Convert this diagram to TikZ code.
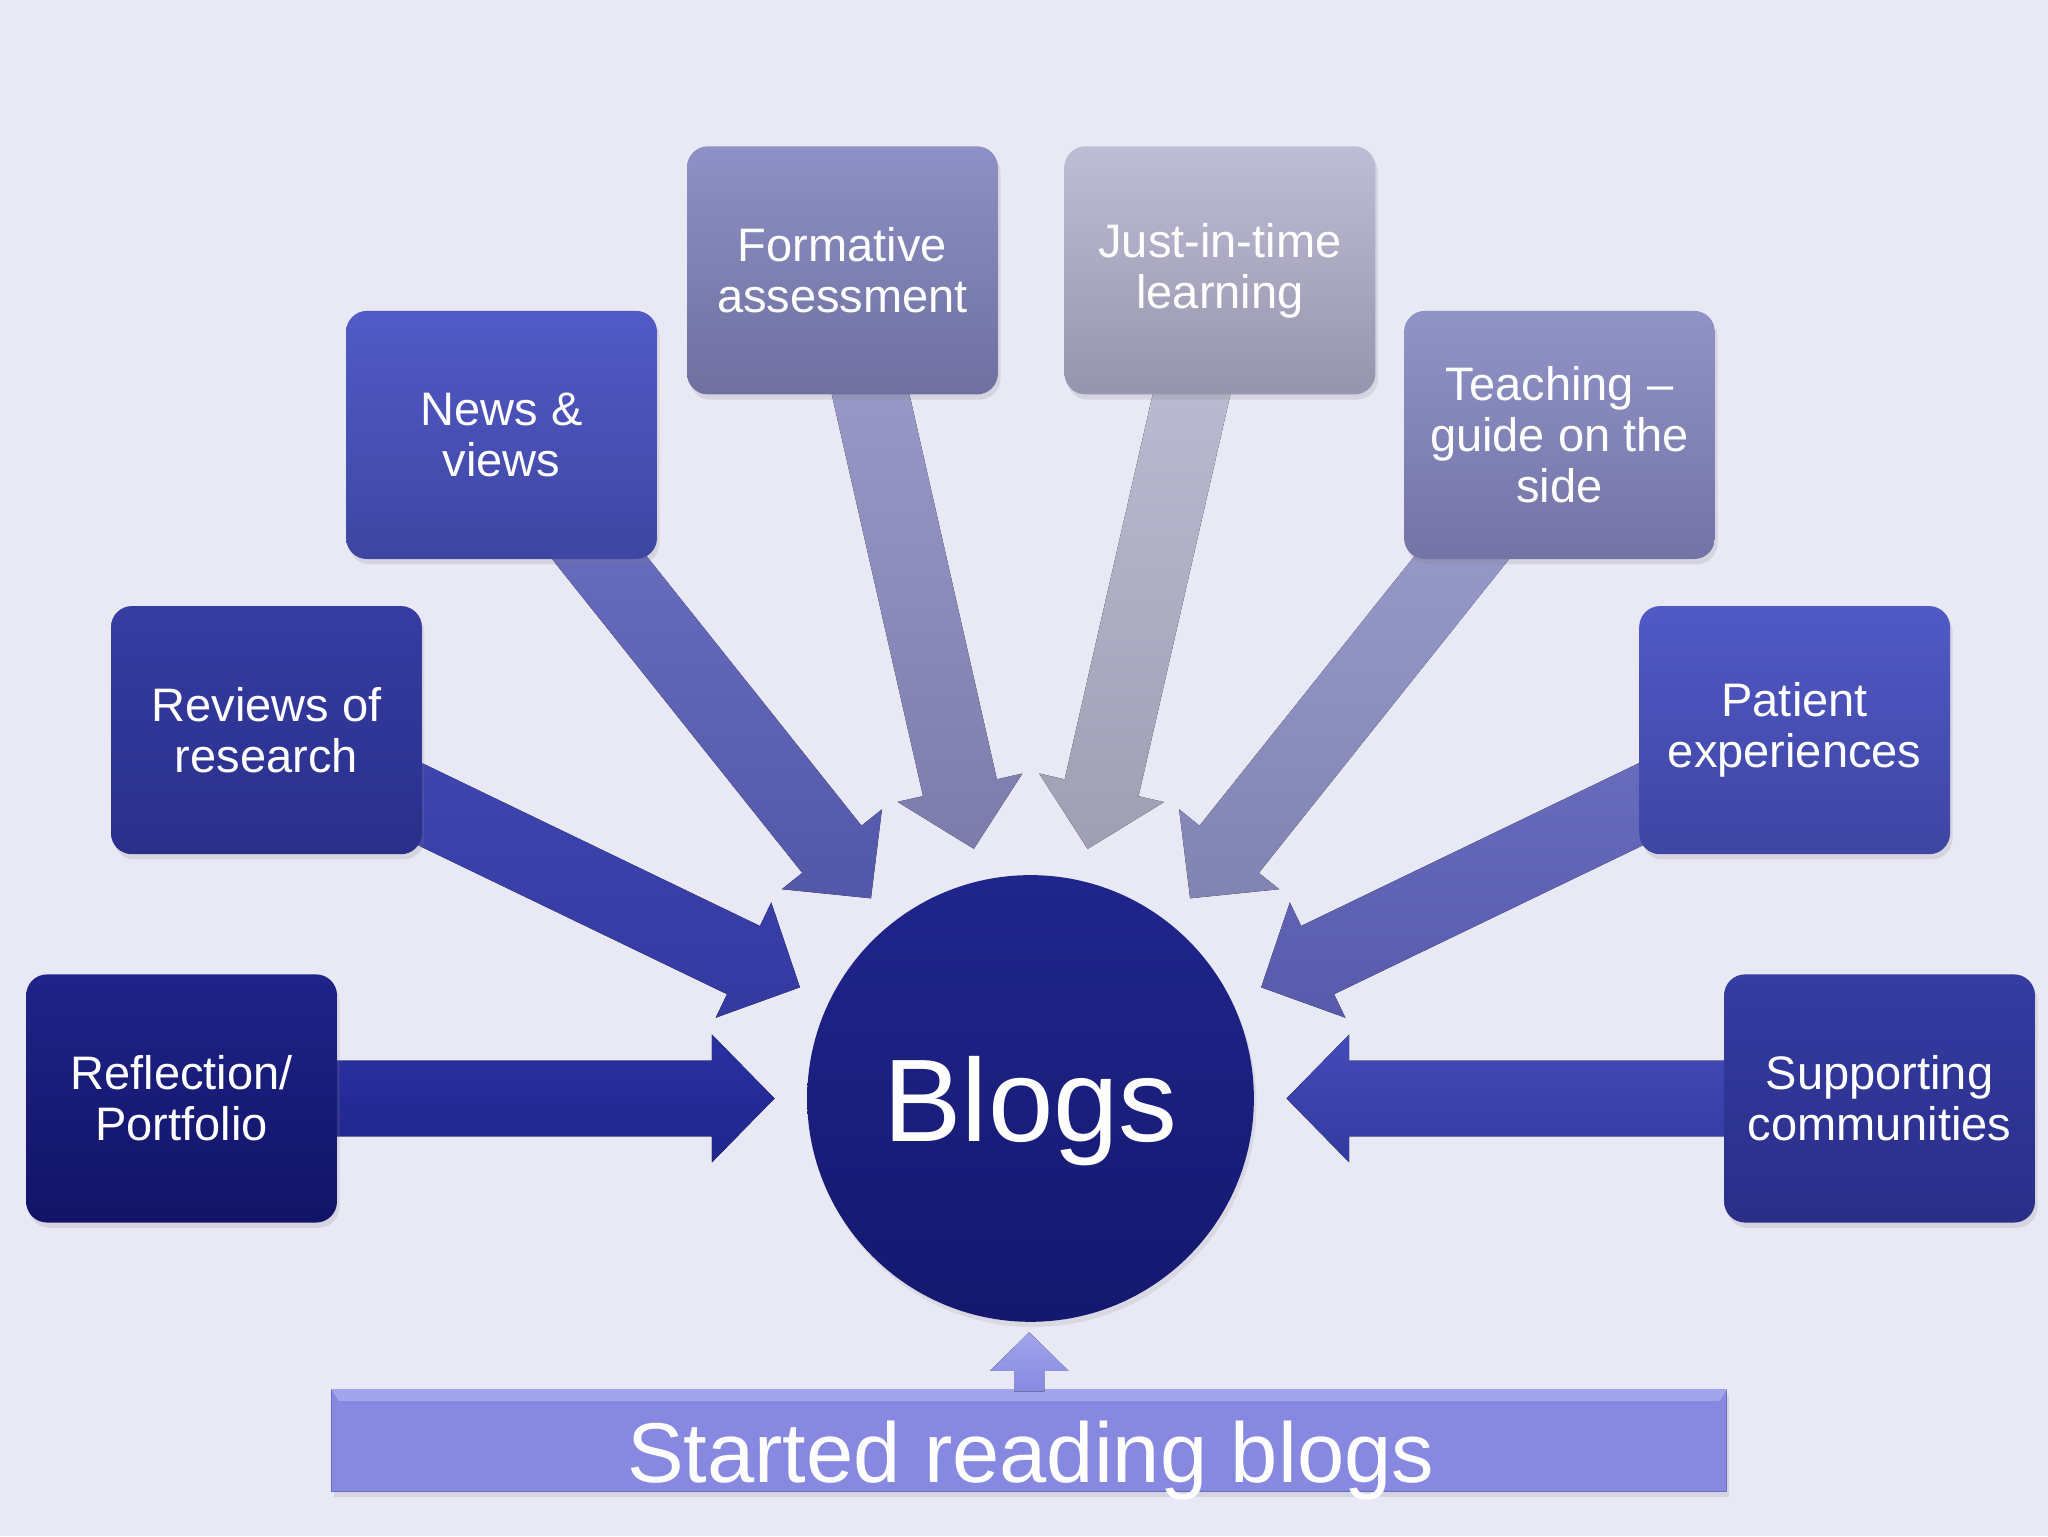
\documentclass[tikz,border=0pt]{standalone}
\usepackage{fontspec}
\setmainfont{Liberation Sans}
\usetikzlibrary{calc,shadows}
\pgfdeclarelayer{back}
\pgfdeclarelayer{arr}
\pgfsetlayers{back,arr,main}
\definecolor{bgc}{HTML}{E9E8F5}
\definecolor{rfT}{HTML}{1F2388}\definecolor{rfB}{HTML}{111466}
\definecolor{rvT}{HTML}{363DA2}\definecolor{rvB}{HTML}{2A2F8A}
\definecolor{nwT}{HTML}{525AC6}\definecolor{nwB}{HTML}{3E46A2}
\definecolor{fmT}{HTML}{8E91C5}\definecolor{fmB}{HTML}{6F6FA0}
\definecolor{jtT}{HTML}{BEBDD5}\definecolor{jtB}{HTML}{9795AD}
\definecolor{tcT}{HTML}{9193C7}\definecolor{tcB}{HTML}{7373A5}
\definecolor{ptT}{HTML}{5159C6}\definecolor{ptB}{HTML}{3E45A2}
\definecolor{spT}{HTML}{353CA2}\definecolor{spB}{HTML}{2A2E88}
\definecolor{arfT}{HTML}{2A30A0}\definecolor{arfB}{HTML}{20268C}
\definecolor{arvT}{HTML}{4048B2}\definecolor{arvB}{HTML}{3439A0}
\definecolor{anwT}{HTML}{6F73C3}\definecolor{anwB}{HTML}{5357A8}
\definecolor{afmT}{HTML}{9FA0CE}\definecolor{afmB}{HTML}{7C7CAC}
\definecolor{ajtT}{HTML}{C2C1D7}\definecolor{ajtB}{HTML}{A09EB3}
\definecolor{atcT}{HTML}{9EA0CF}\definecolor{atcB}{HTML}{8183B2}
\definecolor{aptT}{HTML}{6C70C1}\definecolor{aptB}{HTML}{585BAB}
\definecolor{aspT}{HTML}{434BB8}\definecolor{aspB}{HTML}{333A9E}
\definecolor{barc}{HTML}{8789E0}
\definecolor{barL}{HTML}{A2A4EC}
\definecolor{barD}{HTML}{6A6CC0}
\definecolor{circT}{HTML}{20258C}\definecolor{circB}{HTML}{14186E}
\tikzset{
  topic/.style={rounded corners=16pt, minimum width=238pt, minimum height=190pt,
    inner sep=0pt, align=center, text=white,
    font=\fontsize{36}{39}\selectfont,
    drop shadow={opacity=0.18, shadow xshift=2pt, shadow yshift=-4pt}},
  fat/.style={draw=none},
}
\newcommand\fatarrow[4]{%
  \coordinate (T#1) at ($(#2.center)!196pt!(#1.center)$);
  \coordinate (H#1) at ($(T#1)!48pt!(#1.center)$);
  \fill[fat, top color=#3, bottom color=#4]
    ($(#1.center)!29pt!90:(T#1)$) -- ($(H#1)!29pt!90:(T#1)$) --
    ($(H#1)!49pt!90:(T#1)$) -- (T#1) -- ($(H#1)!49pt!-90:(T#1)$) --
    ($(H#1)!29pt!-90:(T#1)$) -- ($(#1.center)!29pt!-90:(T#1)$) -- cycle;
}
\begin{document}
\begin{tikzpicture}[x=1pt,y=-1pt]
\begin{pgfonlayer}{back}
\fill[bgc] (0,0) rectangle (1568,1176);
\end{pgfonlayer}
\useasboundingbox (0,0) rectangle (1568,1176);

% centre
\node[circle, minimum size=342pt, inner sep=0pt, top color=circT, bottom color=circB,
  text=white, font=\fontsize{90}{90}\selectfont, text depth=0pt,
  drop shadow={opacity=0.15, shadow xshift=2pt, shadow yshift=-4pt}] (c) at (789,841) {Blogs};

% topic boxes
\node[topic, top color=rfT, bottom color=rfB] (rf) at (139,841) {Reflection/\\Portfolio};
\node[topic, top color=rvT, bottom color=rvB] (rv) at (204,559) {Reviews of\\research};
\node[topic, top color=nwT, bottom color=nwB] (nw) at (384,333) {News \&\\views};
\node[topic, top color=fmT, bottom color=fmB] (fm) at (645,207) {Formative\\assessment};
\node[topic, top color=jtT, bottom color=jtB] (jt) at (934,207) {Just-in-time\\learning};
\node[topic, top color=tcT, bottom color=tcB] (tc) at (1194,333) {Teaching --\\guide on the\\side};
\node[topic, top color=ptT, bottom color=ptB] (pt) at (1374,559) {Patient\\experiences};
\node[topic, top color=spT, bottom color=spB] (sp) at (1439,841) {Supporting\\communities};

% arrows behind boxes
\begin{pgfonlayer}{arr}
\fatarrow{rf}{c}{arfT}{arfB}
\fatarrow{rv}{c}{arvT}{arvB}
\fatarrow{nw}{c}{anwT}{anwB}
\fatarrow{fm}{c}{afmT}{afmB}
\fatarrow{jt}{c}{ajtT}{ajtB}
\fatarrow{tc}{c}{atcT}{atcB}
\fatarrow{pt}{c}{aptT}{aptB}
\fatarrow{sp}{c}{aspT}{aspB}
\end{pgfonlayer}

% bottom bar
\node[rectangle, minimum width=1068pt, minimum height=78pt, inner sep=0pt,
  fill=barc, draw=barD, line width=1pt,
  drop shadow={opacity=0.18, shadow xshift=2pt, shadow yshift=-4pt}] (bar) at (788,1103) {};
\fill[barL] (bar.north west) -- (bar.north east) -- ([xshift=-6pt,yshift=-9pt]bar.north east) -- ([xshift=6pt,yshift=-9pt]bar.north west) -- cycle;
\node[anchor=base, text=white, font=\fontsize{65}{65}\selectfont] (lbl) at (789,1135) {Started reading blogs};

% small up arrow
\coordinate (up) at (788,1020);
\fill[top color=barL, bottom color=barc]
  ($(bar.north)+(-11.5,2)$) -- ($(bar.north)+(-11.5,-14)$) -- ($(bar.north)+(-30,-14)$) --
  (up) -- ($(bar.north)+(30,-14)$) -- ($(bar.north)+(11.5,-14)$) -- ($(bar.north)+(11.5,2)$) -- cycle;
\end{tikzpicture}
\end{document}
